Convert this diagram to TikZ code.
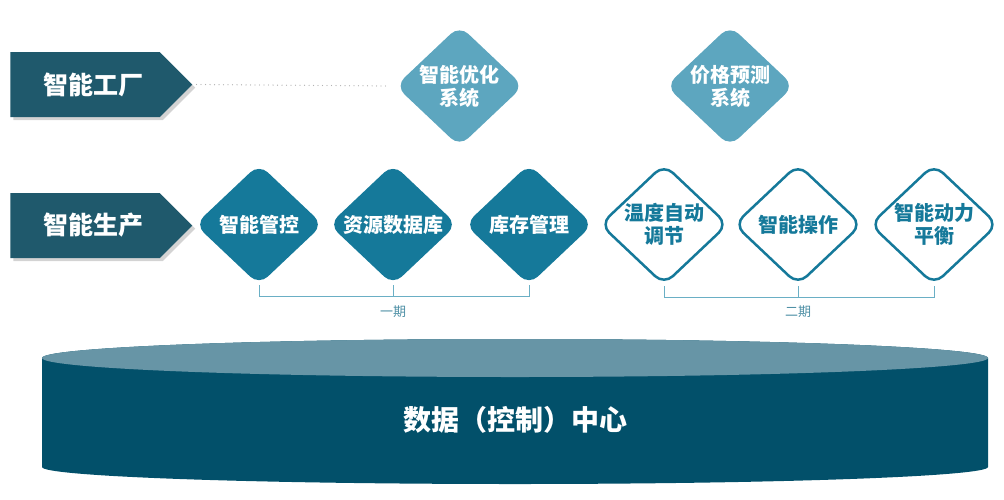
\documentclass[tikz,border=0pt]{standalone}
\usepackage{fontspec}
\newfontfamily\cjk{Noto Sans CJK SC}
\usetikzlibrary{shapes.geometric,shapes.symbols,shadows}
\definecolor{chevblue}{HTML}{1F596C}
\definecolor{lightblue}{HTML}{5DA6BF}
\definecolor{diablue}{HTML}{15799A}
\definecolor{linkblue}{HTML}{6AAFC5}
\definecolor{phaseblue}{HTML}{4D8FA5}
\definecolor{cyltop}{HTML}{6795A6}
\definecolor{cylbody}{HTML}{02506A}
\tikzset{
  chev/.style={signal, signal to=east, signal pointer angle=90, fill=chevblue,
    minimum width=182pt, minimum height=65pt, inner sep=0pt,
    drop shadow={shadow xshift=3pt, shadow yshift=-3pt, opacity=0.35}},
  chevtext/.style={text=white, font=\cjk\bfseries\fontsize{25}{25}\selectfont},
  dia/.style={diamond, minimum width=128pt, minimum height=121pt, inner sep=0pt, rounded corners=12pt},
  diatext/.style={align=center, font=\cjk\bfseries\fontsize{20}{23}\selectfont},
  bracket/.style={draw=linkblue, line width=1pt},
  phase/.style={text=phaseblue, font=\cjk\fontsize{13}{13}\selectfont},
}
\begin{document}
\begin{tikzpicture}[x=1pt,y=-1pt]
    \useasboundingbox (0,0) rectangle (1004,499);
    % left labels
    \node[chev] (c1) at (85,84.5) {};
    \node[chevtext] (c1t) at (93,84.5) {智能工厂};
    \node[chev] (c2) at (85,225.5) {};
    \node[chevtext] (c2t) at (93,225.5) {智能生产};
    % top row
    \foreach \n/\x/\t in {t1/459.5/{智能优化\\系统}, t2/730/{价格预测\\系统}} {
        \node[dia,fill=lightblue] (\n) at (\x,86) {};
        \node[diatext,text=white] (\n-t) at (\n) {\t};
    }
    \draw[gray!60, line width=1.3pt, line cap=round, dash pattern=on 0pt off 4.5pt] (c1.east) ++(4,0) -- ([xshift=-6pt]t1.west);
    % bottom row, phase one
    \foreach \n/\x/\t in {d1/259/智能管控, d2/393/资源数据库, d3/529/库存管理} {
        \node[dia,fill=diablue] (\n) at (\x,224.5) {};
        \node[diatext,text=white] (\n-t) at (\n) {\t};
    }
    % bottom row, phase two
    \foreach \n/\x/\t in {d4/664/{温度自动\\调节}, d5/798/智能操作, d6/934/{智能动力\\平衡}} {
        \node[dia,draw=diablue,line width=2.5pt,fill=white] (\n) at (\x,224.5) {};
        \node[diatext,text=diablue] (\n-t) at (\n) {\t};
    }
    % brackets
    \draw[bracket] (d1.south) -- ++(0,11) -| (d3.south);
    \draw[bracket] (d2.south) -- ++(0,11);
    \draw[bracket] (d4.south) -- ++(0,11) -| (d6.south);
    \draw[bracket] (d5.south) -- ++(0,11);
    \node[phase] (p1) at (393,312) {一期};
    \node[phase] (p2) at (798,312) {二期};
    % data centre
    \fill[cylbody] (42,358) -- (42,467) arc[start angle=180, end angle=360, x radius=473pt, y radius=17pt]
        -- (988,358) arc[start angle=0, end angle=180, x radius=473pt, y radius=19pt] -- cycle;
    \fill[cyltop] (515,358) ellipse[x radius=473pt, y radius=19pt];
    \node[text=white, font=\cjk\bfseries\fontsize{28}{28}\selectfont] (core) at (515,420) {数据（控制）中心};
\end{tikzpicture}
\end{document}
